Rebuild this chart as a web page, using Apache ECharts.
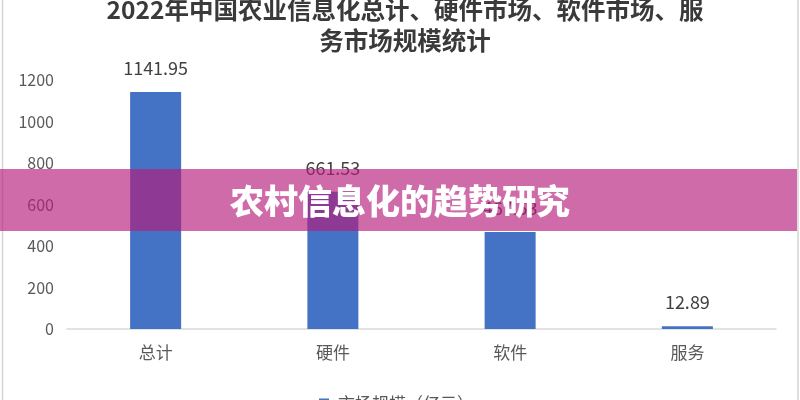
<!DOCTYPE html>
<html>
<head>
<meta charset="utf-8">
<script src="https://cdn.jsdelivr.net/npm/echarts@6/dist/echarts.min.js"></script>
<style>
html,body{margin:0;padding:0;background:#fff;}
#chart{width:800px;height:400px;}
</style>
</head>
<body>
<div id="chart"></div>
<script>
var titleText = '2022年中国农业信息化总计、硬件市场、软件市场、服\n务市场规模统计';
var bannerText = '农村信息化的趋势研究';
var seriesName = '市场规模（亿元）';
var categories = ['总计', '硬件', '软件', '服务'];
var values = [1141.95, 661.53, 467.53, 12.89];
var yMin = 0, yMax = 1200, yInterval = 200;

var chart = echarts.init(document.getElementById('chart'));
var font = '"Noto Sans CJK SC", "Noto Sans", sans-serif';
chart.setOption({
  backgroundColor: '#fff',
  animation: false,
  textStyle: { fontFamily: font },
  title: {
    text: titleText,
    left: 400,
    textAlign: 'center',
    top: -11,
    textStyle: { fontSize: 24.5, fontWeight: 'bold', color: '#3a3a3a', lineHeight: 31, fontFamily: font }
  },
  legend: {
    data: [seriesName],
    left: 314,
    top: 390,
    itemWidth: 10,
    itemHeight: 10,
    itemGap: 6,
    icon: 'rect',
    textStyle: { fontSize: 17, color: '#595959', fontFamily: font, padding: [0, 0, 0, 4] }
  },
  grid: { left: 67, right: 24, top: 80, bottom: 71, containLabel: false },
  xAxis: {
    type: 'category',
    data: categories,
    axisLine: { lineStyle: { color: '#d9d9d9', width: 1.5 } },
    axisTick: { show: false },
    axisLabel: { fontSize: 17, color: '#595959', margin: 15, fontFamily: font }
  },
  yAxis: {
    type: 'value',
    min: yMin,
    max: yMax,
    interval: yInterval,
    axisLine: { show: false },
    axisTick: { show: false },
    splitLine: { show: false },
    axisLabel: { fontSize: 16, color: '#595959', margin: 13, fontFamily: font, formatter: function (v) { return String(v); } }
  },
  series: [{
    name: seriesName,
    type: 'bar',
    data: values,
    barWidth: 51,
    itemStyle: { color: '#4472C4' },
    label: {
      show: true,
      position: 'top',
      distance: 15,
      fontSize: 18,
      color: '#404040',
      fontFamily: font
    }
  }],
  graphic: [
    { type: 'line', shape: { x1: 2.5, y1: 0, x2: 2.5, y2: 400 }, style: { stroke: '#d4d4d4', lineWidth: 1.5 }, z: 50 },
    { type: 'line', shape: { x1: 798, y1: 0, x2: 798, y2: 400 }, style: { stroke: '#d4d4d4', lineWidth: 1.5 }, z: 50 },
    { type: 'rect', shape: { x: 0, y: 169, width: 797, height: 62 }, style: { fill: 'rgba(183,28,125,0.65)' }, z: 100 },
    { type: 'text', x: 400, y: 201, style: { text: bannerText, fill: '#fff', font: '900 34px "Noto Sans CJK SC", sans-serif', align: 'center', verticalAlign: 'middle' }, z: 101 }
  ]
});
</script>
</body>
</html>
